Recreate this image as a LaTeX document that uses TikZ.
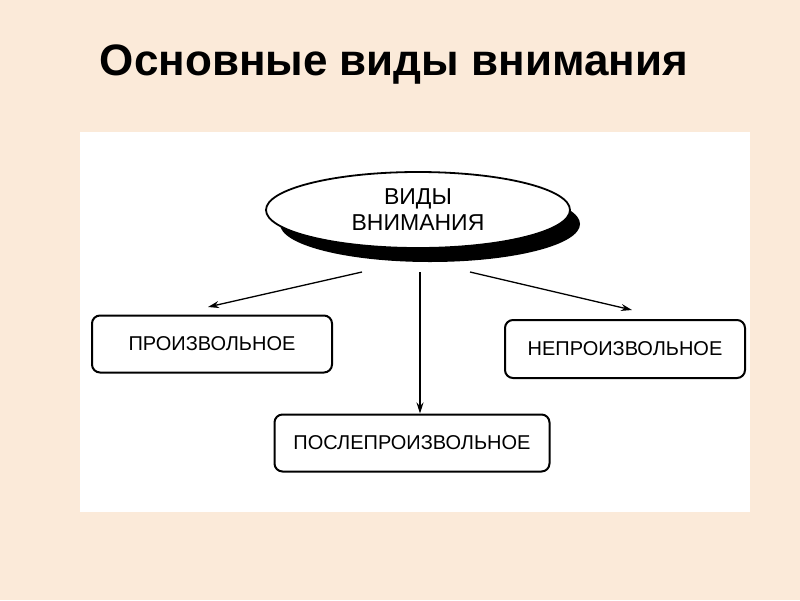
\documentclass[tikz,border=0pt]{standalone}
\usepackage{fontspec}
\setmainfont{Liberation Sans}
\usetikzlibrary{shapes.geometric,arrows.meta}
\definecolor{peach}{RGB}{251,234,217}
\begin{document}
\begin{tikzpicture}[x=1pt,y=-1pt,
  box/.style={draw,line width=2pt,rounded corners=8pt,fill=white,font=\fontsize{20}{24}\selectfont},
  arr/.style={-{Stealth[length=11pt,width=7pt]},line width=1.3pt}]
\fill[peach] (0,0) rectangle (800,600);
\useasboundingbox (0,0) rectangle (800,600);
\fill[white] (80,132) rectangle (750,512);
\node[font=\bfseries\fontsize{44}{50}\selectfont] (title) at (394,65) {Основные виды внимания};
\fill[black] (430,224) ellipse [x radius=150, y radius=38];
\node[ellipse,draw,line width=1.8pt,fill=white,minimum width=304pt,minimum height=76pt,align=center,font=\fontsize{23}{26}\selectfont,inner sep=0pt] (e) at (418,210) {ВИДЫ\\ВНИМАНИЯ};
\node[box,minimum width=240pt,minimum height=57pt] (a) at (212,344) {ПРОИЗВОЛЬНОЕ};
\node[box,minimum width=240pt,minimum height=58pt] (b) at (625,349) {НЕПРОИЗВОЛЬНОЕ};
\node[box,minimum width=275pt,minimum height=57pt] (c) at (412,443) {ПОСЛЕПРОИЗВОЛЬНОЕ};
\coordinate (s1) at (362,272);
\coordinate (s2) at (420,272);
\coordinate (s3) at (470,272);
\draw[arr] (s1) -- (208,307);
\draw[arr] (s2) -- (c.north -| s2);
\draw[arr] (s3) -- (632,310);
\end{tikzpicture}
\end{document}
